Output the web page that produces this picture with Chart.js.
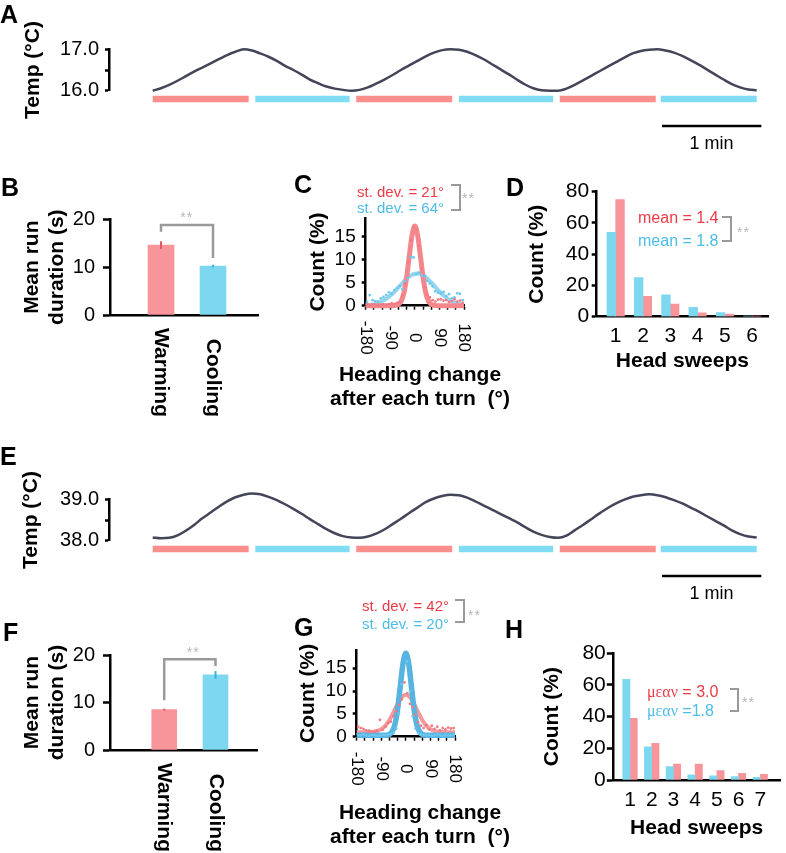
<!DOCTYPE html>
<html>
<head>
<meta charset="utf-8">
<script src="https://cdn.jsdelivr.net/npm/chart.js@4.4.1/dist/chart.umd.min.js"></script>
<style>
  html, body { margin: 0; padding: 0; background: #fff; }
  #fig { position: relative; width: 786px; height: 853px; overflow: hidden; font-family: 'Liberation Sans', Arial, sans-serif; color: #000; }
  #fig canvas { position: absolute; }
  .t { position: absolute; white-space: pre; line-height: 1; }
  .c { transform: translateX(-50%); }
  .lt { font-size: 25px; font-weight: bold; }
  .ttl { font-size: 21px; font-weight: bold; }
  .leg { font-size: 15px; }
  .red { color: #ec3b45; }
  .cyan { color: #4cbde8; }
  .sig { font-size: 14px; color: #b8b8b8; letter-spacing: 1px; }
  .brk { position: absolute; box-sizing: border-box; border: 2.5px solid #9a9a9a; border-left: none; }
  .gr { font-family: 'Liberation Serif', 'DejaVu Serif', serif; }
</style>
</head>
<body>
<div id="fig">
  <canvas id="chartA" width="786" height="160" style="left:0;top:0"></canvas>
  <canvas id="chartB" width="270" height="290" style="left:0;top:160px"></canvas>
  <canvas id="chartC" width="200" height="200" style="left:290px;top:200px"></canvas>
  <canvas id="chartD" width="286" height="210" style="left:500px;top:170px"></canvas>
  <canvas id="chartE" width="786" height="180" style="left:0;top:440px"></canvas>
  <canvas id="chartF" width="270" height="243" style="left:0;top:610px"></canvas>
  <canvas id="chartG" width="210" height="223" style="left:280px;top:630px"></canvas>
  <canvas id="chartH" width="286" height="223" style="left:500px;top:630px"></canvas>

  <!-- panel letters -->
  <div class="t lt" style="left:0;top:1.7px">A</div>
  <div class="t lt" style="left:1px;top:174.7px">B</div>
  <div class="t lt" style="left:294px;top:171.7px">C</div>
  <div class="t lt" style="left:506px;top:174.7px">D</div>
  <div class="t lt" style="left:0;top:443.7px">E</div>
  <div class="t lt" style="left:3px;top:619.7px">F</div>
  <div class="t lt" style="left:294px;top:614.7px">G</div>
  <div class="t lt" style="left:505px;top:616.7px">H</div>

  <!-- scale bars -->
  <div class="t c" style="left:711.5px;top:134px;font-size:18px">1 min</div>
  <div class="t c" style="left:711.5px;top:584px;font-size:18px">1 min</div>

  <!-- significance marks -->
  <div class="t c sig" style="left:186.7px;top:209.5px">**</div>
  <div class="t c sig" style="left:193.3px;top:644.5px">**</div>

  <!-- C -->
  <div class="t leg red" style="left:357px;top:183.5px">st. dev. = 21°</div>
  <div class="t leg cyan" style="left:357px;top:199.5px">st. dev. = 64°</div>
  <div class="brk" style="left:451px;top:184px;width:9.5px;height:26.5px"></div>
  <div class="t sig" style="left:462px;top:191.2px">**</div>
  <div class="t c ttl" style="left:420px;top:362.5px">Heading change</div>
  <div class="t c ttl" style="left:420px;top:386.5px">after each turn  (°)</div>

  <!-- D -->
  <div class="t red" style="left:638px;top:210px;font-size:16px">mean = 1.4</div>
  <div class="t cyan" style="left:638px;top:233px;font-size:16px">mean = 1.8</div>
  <div class="brk" style="left:722px;top:216px;width:9.5px;height:26px"></div>
  <div class="t sig" style="left:737px;top:225.2px">**</div>

  <!-- G -->
  <div class="t leg red" style="left:362px;top:597.5px">st. dev. = 42°</div>
  <div class="t leg cyan" style="left:362px;top:615.5px">st. dev. = 20°</div>
  <div class="brk" style="left:455px;top:599px;width:9.5px;height:24px"></div>
  <div class="t sig" style="left:468px;top:608.2px">**</div>
  <div class="t c ttl" style="left:420px;top:801.2px">Heading change</div>
  <div class="t c ttl" style="left:420px;top:824.5px">after each turn  (°)</div>

  <!-- H -->
  <div class="t red" style="left:647px;top:683.7px;font-size:16px"><span class="gr">μεαν</span> = 3.0</div>
  <div class="t cyan" style="left:647px;top:703px;font-size:16px"><span class="gr">μεαν</span> =1.8</div>
  <div class="brk" style="left:729.5px;top:688px;width:9.5px;height:24px"></div>
  <div class="t sig" style="left:742px;top:695.2px">**</div>
</div>

<script>
// ---- data ----
// temperature traces, one sample every 5 s
const TRACE_STEP = 5;
const tempA = [
  16.0, 16.06, 16.14, 16.24, 16.35, 16.46, 16.56, 16.66, 16.76, 16.86, 16.94, 17.0,
  16.97, 16.9, 16.82, 16.72, 16.6, 16.5, 16.39, 16.27, 16.18, 16.1, 16.05, 16.02,
  16.0, 16.02, 16.08, 16.17, 16.27, 16.38, 16.5, 16.61, 16.72, 16.83, 16.92, 16.98,
  17.0, 16.99, 16.94, 16.86, 16.76, 16.64, 16.52, 16.4, 16.27, 16.15, 16.06, 16.01,
  16.0, 16.0, 16.05, 16.14, 16.25, 16.36, 16.47, 16.58, 16.69, 16.8, 16.9, 16.96,
  16.99, 17.0, 16.97, 16.92, 16.84, 16.74, 16.63, 16.51, 16.39, 16.27, 16.16, 16.08,
  16.03, 16.01
];
const tempE = [
  38.08, 38.06, 38.07, 38.13, 38.24, 38.38, 38.54, 38.68, 38.82, 38.95, 39.05, 39.11,
  39.14, 39.12, 39.06, 38.98, 38.88, 38.77, 38.65, 38.52, 38.4, 38.28, 38.18, 38.11,
  38.08, 38.07, 38.1, 38.17, 38.27, 38.4, 38.53, 38.67, 38.8, 38.93, 39.02, 39.08,
  39.11, 39.1, 39.04, 38.95, 38.85, 38.75, 38.65, 38.55, 38.45, 38.33, 38.22, 38.14,
  38.09, 38.07, 38.12, 38.25, 38.38, 38.52, 38.66, 38.79, 38.9, 38.99, 39.06, 39.1,
  39.12, 39.1, 39.05, 38.98, 38.9, 38.8, 38.7, 38.59, 38.48, 38.37, 38.25, 38.16,
  38.1, 38.08
];
const tempTicksA = [16, 16.5, 17];
const tempTicksE = [38, 38.5, 39];
const warmPhases = [[0, 58], [123, 181], [246, 304]];   // seconds
const coolPhases = [[62, 119], [185, 242], [307, 365]];
const scaleBarSec = [307.8, 367.8];                      // 1 min

// mean run duration
const conditions = ['Warming', 'Cooling'];
const runB = [14.6, 10.2];
const runErrB = [0.8, 0.3];
const runF = [8.5, 15.8];
const runErrF = [0.2, 0.8];
const runTicks = [0, 10, 20];
const sigB = [17.4, 18.8, 11.9];   // left foot, top, right foot
const sigF = [10.5, 19.1, 17.7];

// heading change distributions
const headingTicks = [-180, -150, -120, -90, -60, -30, 0, 30, 60, 90, 120, 150, 180];
const headingLabelVals = [-180, -90, 0, 90, 180];
const headingLabels = ['-180', '-90', '0', '90', '180'];
const countTicksCG = [0, 5, 10, 15];
const curveAngles = [-180, -170, -160, -150, -140, -130, -120, -110, -100, -90, -80, -70, -60, -50, -40, -30, -20, -10, 0,
  10, 20, 30, 40, 50, 60, 70, 80, 90, 100, 110, 120, 130, 140, 150, 160, 170, 180];
const binAngles = [-175, -165, -155, -145, -135, -125, -115, -105, -95, -85, -75, -65, -55, -45, -35, -25, -15, -5,
  5, 15, 25, 35, 45, 55, 65, 75, 85, 95, 105, 115, 125, 135, 145, 155, 165, 175];

const fitWarmC = [0, 0, 0, 0, 0, 0, 0, 0, 0, 0, 0, 0.07, 0.3, 1.0, 2.8, 6.2, 11.0, 15.4, 17.3,
  15.4, 11.0, 6.2, 2.8, 1.0, 0.3, 0.07, 0, 0, 0, 0, 0, 0, 0, 0, 0, 0, 0];
const fitCoolC = [0.1, 0.15, 0.2, 0.3, 0.5, 0.7, 1.0, 1.3, 1.7, 2.2, 2.7, 3.3, 4.0, 4.6, 5.3, 5.9, 6.4, 6.7, 6.95,
  7.0, 6.9, 6.6, 6.2, 5.6, 5.0, 4.4, 3.7, 3.1, 2.5, 2.0, 1.5, 1.1, 0.8, 0.6, 0.4, 0.3, 0.2];
const dotsWarmC = [0.2, 0.1, 0.3, 0.2, 0.1, 0.2, 0.3, 0.2, 0.3, 0.5, 0.4, 0.6, 0.9, 2.2, 4.8, 9.5, 14.2, 17.0,
  16.6, 13.0, 8.2, 4.0, 2.4, 1.8, 1.2, 0.9, 1.3, 1.4, 1.1, 1.2, 0.8, 1.0, 1.4, 0.9, 1.1, 0.6];
const dotsCoolC = [0.8, 2.3, 1.2, 1.0, 0.9, 1.6, 1.9, 2.3, 2.9, 2.6, 3.4, 3.8, 4.3, 3.6, 5.3, 6.0, 10.6, 10.5,
  6.8, 7.2, 6.6, 6.4, 5.4, 4.8, 4.2, 3.1, 2.8, 2.7, 3.0, 2.1, 2.5, 1.6, 1.8, 2.7, 2.6, 1.2];

const fitWarmG = [1.0, 1.0, 1.0, 1.0, 1.02, 1.04, 1.09, 1.19, 1.36, 1.65, 2.11, 2.77, 3.67, 4.76, 5.97, 7.19, 8.24, 8.95, 9.2,
  8.95, 8.24, 7.19, 5.97, 4.76, 3.67, 2.77, 2.11, 1.65, 1.36, 1.19, 1.09, 1.04, 1.02, 1.0, 1.0, 1.0, 1.0];
const fitCoolG = [0.3, 0.3, 0.3, 0.3, 0.3, 0.3, 0.3, 0.3, 0.3, 0.3, 0.3, 0.34, 0.5, 1.1, 2.7, 6.1, 11.2, 16.2, 18.3,
  16.2, 11.2, 6.1, 2.7, 1.1, 0.5, 0.34, 0.3, 0.3, 0.3, 0.3, 0.3, 0.3, 0.3, 0.3, 0.3, 0.3, 0.3];
const dotsWarmG = [2.2, 1.9, 1.7, 1.4, 1.3, 1.0, 1.1, 1.3, 3.7, 1.5, 2.2, 3.0, 3.3, 4.5, 5.5, 7.0, 8.2, 11.9,
  9.5, 7.2, 6.5, 4.8, 3.2, 2.4, 1.9, 2.5, 1.6, 2.4, 1.7, 2.2, 1.4, 1.9, 1.6, 2.0, 1.8, 1.9];
const dotsCoolG = [0.4, 0.3, 0.5, 0.3, 0.2, 0.4, 0.3, 0.2, 0.3, 0.4, 0.3, 0.5, 0.6, 0.9, 1.8, 5.0, 11.5, 20.4,
  16.5, 10.0, 4.5, 1.8, 0.8, 0.5, 0.4, 0.3, 0.4, 0.2, 0.3, 0.5, 0.3, 0.2, 0.4, 0.3, 0.3, 0.4];

// head sweeps histograms (%)
const sweepsD = [1, 2, 3, 4, 5, 6];
const coolD = [54, 25, 14, 6, 2.6, 0.4];
const warmD = [75, 13, 8, 2.5, 1.7, 0.3];
const sweepsH = [1, 2, 3, 4, 5, 6, 7];
const coolH = [63.6, 21, 8.4, 3.2, 2.7, 2.1, 1.7];
const warmH = [39, 23.2, 10.1, 10.1, 5.9, 4.2, 3.6];
const countTicksDH = [0, 20, 40, 60, 80];

// ---- styling ----
const FONT = "'Liberation Sans', Arial, sans-serif";
const WARM = '#f7959a', COOL = '#7dd7ee';
const WARM_PHASE = '#fc8e8e', COOL_PHASE = '#7fdcf2';
const WARM_ERR = '#e2565d', COOL_ERR = '#39b5db';
const TRACE = '#45455a';
const SIG = '#9a9a9a';
const AXIS_BORDER = { display: true, color: '#000', width: 2.5 };

Chart.defaults.font.family = FONT;
Chart.defaults.font.size = 20;
Chart.defaults.color = '#000';

// rotated (top-to-bottom) category labels under an x axis
const rotatedTicks = {
  id: 'rotatedTicks',
  afterDraw(chart, args, opts) {
    if (!opts.values) return;
    const xs = chart.scales.x, ctx = chart.ctx;
    ctx.save();
    ctx.font = opts.font;
    ctx.fillStyle = '#000';
    ctx.textAlign = opts.align;
    ctx.textBaseline = 'middle';
    opts.values.forEach((v, i) => {
      ctx.save();
      ctx.translate(xs.getPixelForValue(v), xs.top + opts.offset);
      ctx.rotate(Math.PI / 2);
      ctx.fillText(opts.labels[i], 0, 0);
      ctx.restore();
    });
    ctx.restore();
  }
};

// simple vertical error bars for bar datasets with an "errors" array
const errorBars = {
  id: 'errorBars',
  afterDatasetsDraw(chart) {
    const { ctx } = chart, y = chart.scales.y;
    chart.data.datasets.forEach((ds, i) => {
      if (!ds.errors) return;
      chart.getDatasetMeta(i).data.forEach((bar, j) => {
        const v = ds.data[j].y, e = ds.errors[j];
        ctx.save();
        ctx.strokeStyle = ds.errorColors[j];
        ctx.lineWidth = 2;
        ctx.beginPath();
        ctx.moveTo(bar.x, y.getPixelForValue(v - e));
        ctx.lineTo(bar.x, y.getPixelForValue(v + e));
        ctx.stroke();
        ctx.restore();
      });
    });
  }
};
Chart.register(rotatedTicks, errorBars);

function base(padding, extraPlugins) {
  return {
    responsive: false,
    animation: false,
    events: [],
    layout: { padding },
    plugins: Object.assign({ legend: { display: false }, tooltip: { enabled: false } }, extraPlugins || {})
  };
}

function valueAxis(min, max, tickVals, width, o) {
  return {
    min, max,
    afterFit: s => { s.width = width; },
    afterBuildTicks: s => { s.ticks = tickVals.map(v => ({ value: v })); },
    ticks: { autoSkip: false, padding: o.pad, font: { size: o.size }, callback: o.fmt || (v => v) },
    grid: { display: true, drawOnChartArea: false, drawTicks: true, tickLength: o.tick, tickWidth: 2.5, tickColor: '#000' },
    border: AXIS_BORDER,
    title: { display: true, text: o.title, font: { size: 21, weight: 'bold' }, padding: { top: o.titleX, bottom: 0 } }
  };
}

// A / E : temperature protocol
function traceChart(id, temps, tickVals, lo, pad, titleX) {
  const phase = (list, color) => ({
    data: list.flatMap(([a, b]) => [{ x: a, y: lo - 0.2 }, { x: b, y: lo - 0.2 }, { x: b, y: null }]),
    borderColor: color, borderWidth: 6.5, borderCapStyle: 'butt', pointRadius: 0, clip: false
  });
  new Chart(document.getElementById(id), {
    type: 'line',
    data: {
      datasets: [
        { data: temps.map((v, i) => ({ x: i * TRACE_STEP, y: v })), borderColor: TRACE, borderWidth: 2.5,
          pointRadius: 0, cubicInterpolationMode: 'monotone', clip: false },
        phase(warmPhases, WARM_PHASE),
        phase(coolPhases, COOL_PHASE),
        { data: scaleBarSec.map(t => ({ x: t, y: lo - 0.853 })), borderColor: '#000', borderWidth: 2.7,
          borderCapStyle: 'butt', pointRadius: 0, clip: false }
      ]
    },
    options: Object.assign(base(pad), {
      scales: {
        x: { type: 'linear', min: -26.4, max: 368.2, display: false },
        y: valueAxis(lo, lo + 1, tickVals, 109, {
          size: 20, pad: 6, tick: 4, title: 'Temp (°C)', titleX,
          fmt: v => (v % 1 === 0 ? v.toFixed(1) : '')
        })
      }
    })
  });
}

// B / F : mean run duration
function runChart(id, values, errors, legs, xMin, xMax, barW, pad, xh) {
  new Chart(document.getElementById(id), {
    type: 'bar',
    data: {
      datasets: [
        { type: 'line', data: [{ x: 0, y: legs[0] }, { x: 0, y: legs[1] }, { x: 1, y: legs[1] }, { x: 1, y: legs[2] }],
          borderColor: SIG, borderWidth: 2.5, pointRadius: 0, clip: false },
        { data: values.map((v, i) => ({ x: i, y: v })), backgroundColor: [WARM, COOL], barThickness: barW,
          errors, errorColors: [WARM_ERR, COOL_ERR] }
      ]
    },
    options: Object.assign(base(pad, {
      rotatedTicks: { values: [0, 1], labels: conditions, offset: 102, align: 'right', font: 'bold 21px ' + FONT }
    }), {
      scales: {
        x: { type: 'linear', offset: false, min: xMin, max: xMax, afterFit: s => { s.height = xh; },
             ticks: { display: false }, grid: { display: false, drawTicks: false }, border: AXIS_BORDER },
        y: valueAxis(0, 20, runTicks, 110, { size: 20, pad: 8, tick: 7, title: ['Mean run', 'duration (s)'], titleX: 19.4 })
      }
    })
  });
}

// C / G : heading change distributions
function headingChart(id, fitW, fitC, dotsW, dotsC, coolOnTop, yw, pad, xh) {
  const curve = (vals, color, width) => ({
    data: vals.map((v, i) => ({ x: curveAngles[i], y: v })), borderColor: color, borderWidth: width,
    pointRadius: 0, cubicInterpolationMode: 'monotone', clip: false
  });
  const dots = (vals, color) => ({
    data: vals.map((v, i) => ({ x: binAngles[i], y: v })), showLine: false, pointRadius: 1.4,
    pointBorderWidth: 0, pointBackgroundColor: color, clip: false
  });
  const warmCurve = curve(fitW, coolOnTop ? '#f3989b' : '#f4878c', coolOnTop ? 4 : 5);
  const coolCurve = curve(fitC, coolOnTop ? '#57b3df' : '#94d4ef', coolOnTop ? 5.5 : 4);
  const curves = coolOnTop ? [coolCurve, warmCurve] : [warmCurve, coolCurve];
  new Chart(document.getElementById(id), {
    type: 'line',
    data: { datasets: [dots(dotsW, '#f07a84'), dots(dotsC, '#6cc8ee')].concat(curves) },
    options: Object.assign(base(pad, {
      rotatedTicks: { values: headingLabelVals, labels: headingLabels, offset: 32, align: 'center', font: '17px ' + FONT }
    }), {
      scales: {
        x: { type: 'linear', min: -180, max: 180, afterFit: s => { s.height = xh; },
             afterBuildTicks: s => { s.ticks = headingTicks.map(v => ({ value: v })); },
             ticks: { display: false },
             grid: { display: true, drawOnChartArea: false, drawTicks: true, tickLength: 4, tickWidth: 1.5, tickColor: '#000' },
             border: AXIS_BORDER },
        y: valueAxis(0, 19, countTicksCG, yw, { size: 19, pad: 6, tick: 4, title: 'Count (%)', titleX: 15.4 })
      }
    })
  });
}

// D / H : head sweeps histograms
function sweepChart(id, sweeps, cool, warm, xMin, xMax, barW, yw, pad, xh, o) {
  const bars = (vals, color) => ({ data: vals.map((v, i) => ({ x: sweeps[i], y: v })), backgroundColor: color, barThickness: barW });
  new Chart(document.getElementById(id), {
    type: 'bar',
    data: { datasets: [bars(cool, COOL), bars(warm, WARM)] },
    options: Object.assign(base(pad), {
      scales: {
        x: { type: 'linear', offset: false, min: xMin, max: xMax, afterFit: s => { s.height = xh; },
             afterBuildTicks: s => { s.ticks = sweeps.map(v => ({ value: v })); },
             ticks: { autoSkip: false, padding: o.xPad, font: { size: 21 }, callback: v => String(v) },
             grid: { display: false, drawTicks: false }, border: AXIS_BORDER,
             title: { display: true, text: 'Head sweeps', font: { size: 21, weight: 'bold' }, padding: { top: 0, bottom: o.titleBottom } } },
        y: valueAxis(0, 80, countTicksDH, yw, { size: 21, pad: o.yPad, tick: o.yTick, title: 'Count (%)', titleX: o.titleX })
      }
    })
  });
}

traceChart('chartA', tempA, tempTicksA, 16, { left: 0, right: 24, top: 49.3, bottom: 69.3 }, 20.4);
traceChart('chartE', tempE, tempTicksE, 38, { left: 0, right: 24, top: 59.3, bottom: 79.3 }, 19.1);

runChart('chartB', runB, runErrB, sigB, -0.981, 1.865, 26, { left: 0, right: 12, top: 59.3, bottom: 0 }, 135);
runChart('chartF', runF, runErrF, sigF, -1.057, 1.809, 25, { left: 0, right: 13, top: 45, bottom: 0 }, 103);

headingChart('chartC', fitWarmC, fitCoolC, dotsWarmC, dotsCoolC, false, 75.7, { left: 0, right: 26, top: 18.3, bottom: 0 }, 94.3);
headingChart('chartG', fitWarmG, fitCoolG, dotsWarmG, dotsCoolG, true, 76.7, { left: 0, right: 35, top: 20, bottom: 0 }, 116.3);

sweepChart('chartD', sweepsD, coolD, warmD, 0.304, 6.579, 8.7, 96.7, { left: 0, right: 18, top: 21.7, bottom: 0 }, 63.3,
  { xPad: 6.7, titleBottom: 6.4, yPad: 2.5, yTick: 5, titleX: 25.1 });
sweepChart('chartH', sweepsH, coolH, warmH, 0.23, 7.91, 7.3, 113.3, { left: 0, right: 6, top: 23.3, bottom: 0 }, 73,
  { xPad: 7.4, titleBottom: 12.4, yPad: 1, yTick: 6.5, titleX: 40.1 });
</script>
</body>
</html>
